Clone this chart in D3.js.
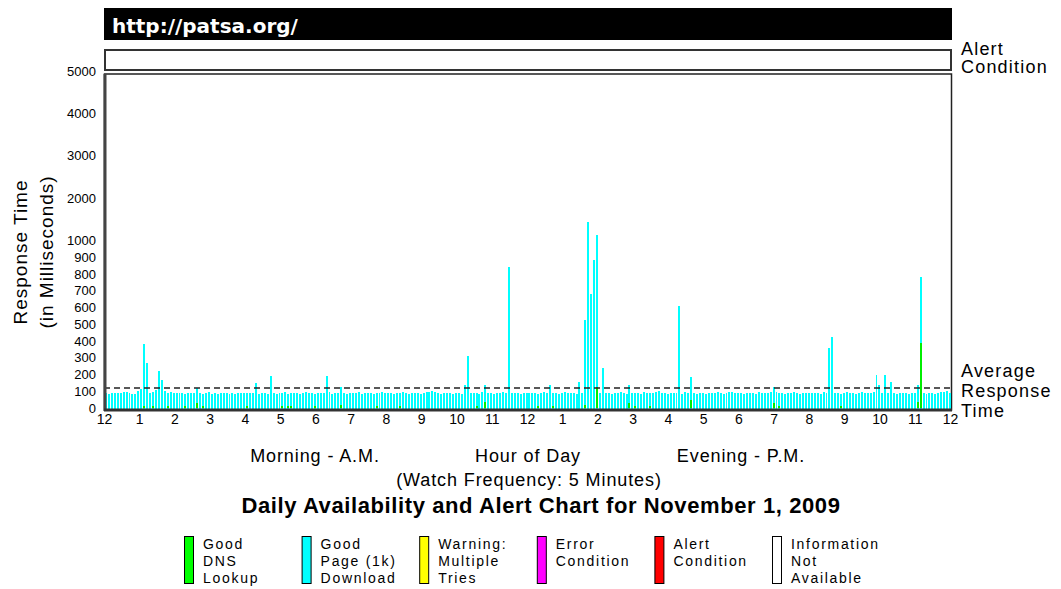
<!DOCTYPE html>
<html><head><meta charset="utf-8">
<script src="https://cdn.jsdelivr.net/npm/d3@7"></script>
<style>
body{margin:0;background:#fff;}
svg text{font-family:"Liberation Sans",Arial,sans-serif;}
</style></head>
<body>
<svg id="c" width="1061" height="589"></svg>
<script>
// ---------- DATA ----------
const siteTitle = "http://patsa.org/";
const chartTitle = "Daily Availability and Alert Chart for November 1, 2009";
const hourLabels = ["12","1","2","3","4","5","6","7","8","9","10","11","12","1","2","3","4","5","6","7","8","9","10","11","12"];
const yTickValues = [0,100,200,300,400,500,600,700,800,900,1000,2000,3000,4000,5000];
const averageResponse = 120;
// total response time (ms) per 5-minute watch, 288 watches
const totalTime = [
 92,85,90,88,90,92,95,93,88,85,86,100,113,380,270,92,95,110,220,170,100,90,95,92,
 90,88,92,86,88,90,92,118,90,86,88,95,84,90,86,92,88,90,85,90,86,92,88,90,
 88,92,90,150,86,88,92,86,190,92,86,90,88,95,86,90,88,92,86,90,95,88,92,86,
 90,88,92,190,95,86,90,88,127,92,86,90,88,92,95,86,90,88,92,86,90,88,95,92,
 88,92,86,90,88,95,92,86,90,92,88,86,90,95,98,100,96,92,86,90,88,92,86,90,
 92,86,137,310,90,88,92,86,95,137,88,90,86,92,88,95,90,840,90,88,92,86,90,88,
 90,88,92,86,90,95,92,137,88,90,86,92,95,88,90,92,86,157,90,528,1440,678,881,1130,
 92,236,88,90,86,92,88,95,90,86,137,88,92,90,86,95,88,92,90,95,100,88,92,86,
 90,88,92,609,86,95,90,187,92,86,90,88,86,92,90,88,95,90,86,92,98,96,92,88,
 90,86,92,88,90,86,95,88,92,90,95,127,96,88,92,86,90,88,95,92,86,90,88,92,
 90,88,92,86,95,90,357,421,88,92,86,90,95,88,92,86,90,98,92,88,92,95,200,137,
 92,200,88,157,90,86,92,88,90,86,88,92,137,780,88,86,90,88,86,92,95,98,100,88
];
// DNS lookup portion (ms) of each watch
const dnsTime = [
 1,1,1,1,1,1,1,1,1,1,1,1,1,10,1,1,10,1,1,1,1,10,1,1,
 1,1,1,10,1,1,1,30,1,10,1,1,1,1,1,1,1,1,1,1,1,1,1,1,
 10,1,1,1,1,1,1,1,1,1,1,1,10,1,10,10,1,1,1,1,1,1,1,10,
 1,1,1,1,1,1,1,1,18,1,1,1,1,1,1,1,1,1,1,1,10,1,1,1,
 1,1,1,1,10,1,1,1,1,1,1,1,1,1,1,1,1,1,1,1,1,1,1,1,
 1,1,1,1,1,1,10,1,1,38,1,1,1,1,1,1,1,1,1,1,1,1,1,1,
 1,1,1,10,1,1,1,1,10,1,1,1,1,1,1,1,1,1,1,18,1,1,1,125,
 1,1,1,1,1,1,1,1,1,1,30,1,10,1,1,1,1,10,1,1,1,1,1,1,
 1,1,1,1,1,1,1,48,1,1,1,1,1,1,1,1,1,1,1,1,1,1,1,1,
 1,1,1,1,1,1,1,1,1,1,1,30,1,10,1,1,1,1,1,1,1,1,1,1,
 1,1,1,1,1,1,1,1,1,1,10,1,1,1,1,1,1,1,1,1,1,1,1,1,
 1,1,1,1,1,1,1,1,1,1,1,1,38,389,1,1,1,1,1,1,1,1,1,1
];
const legendLabels = [["Good","DNS","Lookup"],["Good","Page (1k)","Download"],["Warning:","Multiple","Tries"],["Error","Condition"],["Alert","Condition"],["Information","Not","Available"]];
const legendColors = ["#00ff00","#00ffff","#ffff00","#ff00ff","#ff0000","#ffffff"];

// ---------- DRAW ----------
const svg = d3.select("#c");
const L = 104, R = 952, T = 74, B = 410;
const y = d3.scaleLinear().domain([0,1000,5000]).range([408,240.5,71]);
const xh = d3.scaleLinear().domain([0,24]).range([104,950]);
const xb = d3.scaleBand().domain(d3.range(totalTime.length)).range([105,951]).paddingInner(0.33);

// header bar
svg.append("rect").attr("x",L).attr("y",8).attr("width",R-L).attr("height",32).attr("fill","#000");
svg.append("text").attr("x",112).attr("y",33).attr("fill","#fff")
  .style("font-family","'DejaVu Sans',Verdana,sans-serif").style("font-weight","bold").style("font-size","20px")
  .text(siteTitle);

// alert condition strip
svg.append("rect").attr("x",L+1).attr("y",50).attr("width",R-L-2).attr("height",20)
  .attr("fill","#fff").attr("stroke","#333").attr("stroke-width",2);

// plot frame
svg.append("rect").attr("x",L+0.5).attr("y",T).attr("width",R-L-1).attr("height",B-T)
  .attr("fill","#fff").attr("stroke","#222").attr("stroke-width",1.5);

// bars
const g = svg.append("g").attr("shape-rendering","crispEdges");
g.selectAll("rect.page").data(totalTime).join("rect").attr("class","page")
  .attr("x",(d,i)=>xb(i)).attr("width",xb.bandwidth())
  .attr("y",d=>y(d)).attr("height",d=>y(0)-y(d)+1).attr("fill","#00ffff");
g.selectAll("rect.dns").data(dnsTime).join("rect").attr("class","dns")
  .attr("x",(d,i)=>xb(i)).attr("width",xb.bandwidth())
  .attr("y",d=>y(d)).attr("height",d=>y(0)-y(d)).attr("fill","#00ee00");

// average line
svg.append("line").attr("x1",L).attr("x2",R).attr("y1",y(averageResponse)).attr("y2",y(averageResponse))
  .attr("stroke","#222").attr("stroke-width",1.5).attr("stroke-dasharray","6,4");

// left & bottom axis lines
svg.append("line").attr("x1",L+1).attr("x2",L+1).attr("y1",T).attr("y2",B+1).attr("stroke","#444").attr("stroke-width",3);
svg.append("line").attr("x1",L).attr("x2",R).attr("y1",B).attr("y2",B).attr("stroke","#333").attr("stroke-width",3);

// y tick labels
const yAxis = d3.axisLeft(y).tickValues(yTickValues).tickSize(0).tickPadding(0).tickFormat(d=>d);
const ya = svg.append("g").attr("transform","translate(96,0)").call(yAxis);
ya.select(".domain").remove();
ya.selectAll("text").style("font-size","13px").style("font-family","'Liberation Sans',Arial,sans-serif").attr("fill","#000");

// x tick labels
const xAxis = d3.axisBottom(xh).tickValues(d3.range(25)).tickSize(0).tickPadding(0).tickFormat(i=>hourLabels[i]);
const xa = svg.append("g").attr("transform","translate(0,414)").call(xAxis);
xa.select(".domain").remove();
xa.selectAll("text").style("font-size","14px").style("font-family","'Liberation Sans',Arial,sans-serif").attr("fill","#000");

// y title
const yt = svg.append("text").attr("transform","translate(27,252) rotate(-90)").attr("text-anchor","middle")
  .style("font-size","19px").style("letter-spacing","1px");
yt.append("tspan").attr("x",0).attr("dy",0).text("Response Time");
yt.append("tspan").attr("x",0).attr("dy",26).text("(in Milliseconds)");

// right labels
const rl = [["Alert",55],["Condition",73],["Average",377],["Response",397],["Time",417]];
svg.selectAll("text.rl").data(rl).join("text").attr("class","rl")
  .attr("x",961).attr("y",d=>d[1]).style("font-size","18px").style("letter-spacing","1.2px").text(d=>d[0]);

// x titles
const sub = (x,yy,s)=>svg.append("text").attr("x",x).attr("y",yy).attr("text-anchor","middle")
  .style("font-size","18px").style("letter-spacing","0.9px").text(s);
sub(315,462,"Morning - A.M.");
sub(528,462,"Hour of Day");
sub(741,462,"Evening - P.M.");
sub(529,486,"(Watch Frequency: 5 Minutes)");
svg.append("text").attr("x",541).attr("y",513).attr("text-anchor","middle").style("font-size","22px")
  .style("font-weight","bold").style("letter-spacing","0.6px").text(chartTitle);

// legend
const lx = d3.scalePoint().domain(d3.range(legendLabels.length)).range([184,772]);
const lg = svg.selectAll("g.leg").data(legendLabels).join("g").attr("class","leg")
  .attr("transform",(d,i)=>`translate(${lx(i)},0)`);
lg.append("rect").attr("x",0.5).attr("y",536.5).attr("width",9).attr("height",47)
  .attr("fill",(d,i)=>legendColors[i]).attr("stroke","#000").attr("stroke-width",1);
lg.each(function(d){
  const t = d3.select(this).append("text").attr("x",19).attr("y",549)
    .style("font-size","14px").style("letter-spacing","1.7px");
  d.forEach((s,k)=>t.append("tspan").attr("x",19).attr("y",549+k*17).text(s));
});
</script>
</body></html>
